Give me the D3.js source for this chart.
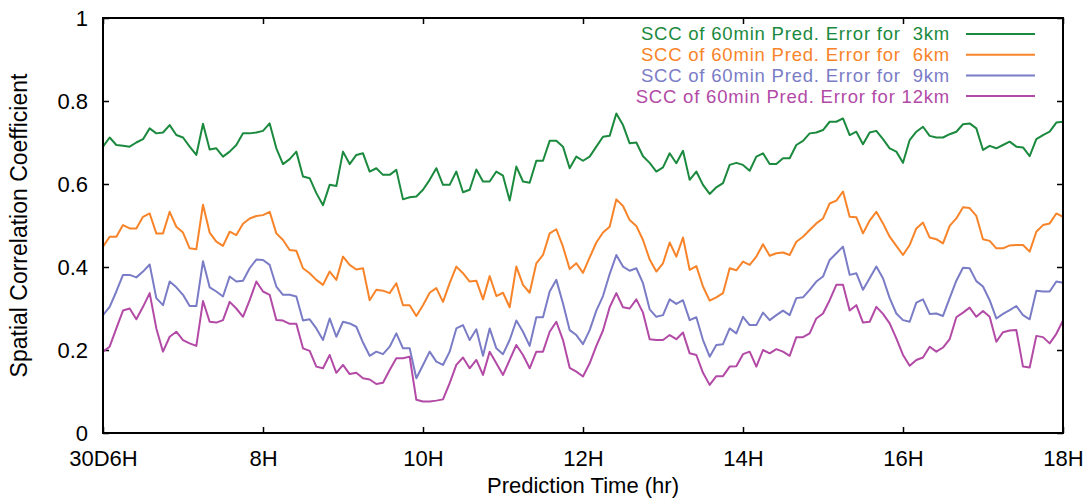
<!DOCTYPE html>
<html>
<head>
<meta charset="utf-8">
<script src="https://cdn.jsdelivr.net/npm/d3@7"></script>
<style>
  body { margin: 0; background: #fff; }
  svg { display: block; font-family: "Liberation Sans", Arial, sans-serif; }
</style>
</head>
<body>
<div id="chart"></div>
<script>
// tick labels
const xTickValues = [6, 8, 10, 12, 14, 16, 18];
const xTickLabels = ["30D6H", "8H", "10H", "12H", "14H", "16H", "18H"];
const yTickValues = [0, 0.2, 0.4, 0.6, 0.8, 1];
const yTickLabels = ["0", "0.2", "0.4", "0.6", "0.8", "1"];

// one value every 5 minutes from 6H to 18H
const startHour = 6;
const stepMinutes = 5;

const scc3km = [
  0.69, 0.712, 0.694, 0.692, 0.69, 0.70, 0.708, 0.734, 0.722, 0.724, 0.742, 0.718, 0.712, 0.69, 0.67, 0.745, 0.683, 0.686, 0.666, 0.678, 0.694,
  0.722, 0.722, 0.724, 0.728, 0.746, 0.686, 0.648, 0.66, 0.678, 0.618, 0.614, 0.578, 0.549, 0.598, 0.595, 0.678, 0.648, 0.67, 0.674, 0.63, 0.638, 0.622, 0.622, 0.634,
  0.563, 0.568, 0.57, 0.586, 0.61, 0.638, 0.598, 0.598, 0.63, 0.58, 0.586, 0.635, 0.606, 0.606, 0.63, 0.62, 0.56, 0.642, 0.606, 0.603, 0.656, 0.656, 0.704, 0.704, 0.69, 0.638,
  0.666, 0.656, 0.666, 0.69, 0.714, 0.716, 0.77, 0.742, 0.698, 0.70, 0.667, 0.651, 0.63, 0.64, 0.674, 0.65, 0.68, 0.61, 0.63, 0.598, 0.576, 0.592, 0.602, 0.646, 0.651,
  0.646, 0.632, 0.666, 0.674, 0.648, 0.648, 0.662, 0.662, 0.694, 0.704, 0.722, 0.724, 0.73, 0.75, 0.75, 0.758, 0.718, 0.726, 0.696, 0.724, 0.728, 0.708, 0.686, 0.678, 0.651, 0.706,
  0.726, 0.738, 0.716, 0.712, 0.712, 0.72, 0.726, 0.744, 0.746, 0.734, 0.682, 0.692, 0.686, 0.694, 0.702, 0.69, 0.688, 0.667, 0.708, 0.718, 0.726, 0.748, 0.75
];

const scc6km = [
  0.449, 0.473, 0.473, 0.501, 0.493, 0.493, 0.521, 0.529, 0.481, 0.481, 0.533, 0.497, 0.483, 0.445, 0.443, 0.55, 0.483, 0.461, 0.451, 0.485, 0.477,
  0.504, 0.517, 0.523, 0.525, 0.533, 0.481, 0.465, 0.441, 0.439, 0.397, 0.385, 0.369, 0.357, 0.389, 0.369, 0.425, 0.405, 0.394, 0.397, 0.32, 0.345, 0.343, 0.337, 0.361,
  0.308, 0.308, 0.282, 0.308, 0.338, 0.349, 0.316, 0.361, 0.401, 0.385, 0.365, 0.367, 0.322, 0.378, 0.33, 0.338, 0.303, 0.401, 0.357, 0.338, 0.409, 0.429, 0.481, 0.491, 0.449, 0.395,
  0.409, 0.386, 0.423, 0.459, 0.483, 0.497, 0.563, 0.547, 0.513, 0.499, 0.465, 0.418, 0.389, 0.409, 0.459, 0.425, 0.471, 0.393, 0.402, 0.353, 0.319, 0.327, 0.337, 0.397, 0.392,
  0.413, 0.405, 0.425, 0.455, 0.427, 0.433, 0.435, 0.429, 0.461, 0.473, 0.489, 0.505, 0.517, 0.553, 0.56, 0.582, 0.521, 0.52, 0.481, 0.512, 0.533, 0.505, 0.473, 0.451, 0.429, 0.453,
  0.493, 0.507, 0.471, 0.467, 0.457, 0.499, 0.517, 0.544, 0.542, 0.523, 0.467, 0.463, 0.445, 0.445, 0.452, 0.453, 0.453, 0.437, 0.485, 0.501, 0.505, 0.529, 0.521
];

const scc9km = [
  0.284, 0.304, 0.341, 0.381, 0.381, 0.375, 0.389, 0.406, 0.325, 0.308, 0.365, 0.351, 0.333, 0.306, 0.306, 0.414, 0.351, 0.341, 0.329, 0.377, 0.365,
  0.367, 0.397, 0.418, 0.417, 0.405, 0.353, 0.333, 0.333, 0.329, 0.271, 0.274, 0.252, 0.224, 0.276, 0.232, 0.268, 0.264, 0.256, 0.218, 0.186, 0.196, 0.19, 0.208, 0.24,
  0.204, 0.204, 0.132, 0.164, 0.196, 0.172, 0.164, 0.196, 0.252, 0.26, 0.224, 0.25, 0.186, 0.252, 0.204, 0.19, 0.224, 0.271, 0.244, 0.21, 0.279, 0.279, 0.341, 0.369, 0.312, 0.248,
  0.236, 0.214, 0.248, 0.295, 0.33, 0.383, 0.429, 0.401, 0.391, 0.397, 0.361, 0.298, 0.28, 0.284, 0.322, 0.311, 0.32, 0.272, 0.279, 0.224, 0.184, 0.212, 0.214, 0.252, 0.24,
  0.28, 0.26, 0.26, 0.29, 0.272, 0.284, 0.295, 0.284, 0.325, 0.327, 0.345, 0.365, 0.377, 0.417, 0.433, 0.449, 0.381, 0.385, 0.345, 0.373, 0.401, 0.373, 0.325, 0.288, 0.272, 0.268,
  0.314, 0.322, 0.287, 0.288, 0.282, 0.325, 0.367, 0.398, 0.397, 0.366, 0.353, 0.32, 0.276, 0.287, 0.296, 0.306, 0.284, 0.274, 0.343, 0.341, 0.341, 0.365, 0.362
];

const scc12km = [
  0.196, 0.208, 0.252, 0.295, 0.30, 0.274, 0.304, 0.337, 0.252, 0.196, 0.232, 0.244, 0.224, 0.216, 0.21, 0.318, 0.268, 0.266, 0.272, 0.316, 0.30,
  0.28, 0.32, 0.365, 0.341, 0.333, 0.272, 0.271, 0.263, 0.263, 0.204, 0.198, 0.16, 0.156, 0.188, 0.145, 0.164, 0.142, 0.145, 0.132, 0.129, 0.118, 0.121, 0.152, 0.18,
  0.18, 0.184, 0.08, 0.076, 0.076, 0.078, 0.081, 0.12, 0.164, 0.182, 0.156, 0.176, 0.14, 0.196, 0.168, 0.14, 0.176, 0.212, 0.188, 0.156, 0.196, 0.196, 0.244, 0.268, 0.224, 0.157,
  0.148, 0.136, 0.168, 0.21, 0.247, 0.303, 0.337, 0.303, 0.30, 0.322, 0.29, 0.226, 0.224, 0.224, 0.236, 0.226, 0.242, 0.192, 0.188, 0.145, 0.116, 0.137, 0.137, 0.16, 0.161,
  0.19, 0.196, 0.16, 0.2, 0.192, 0.202, 0.196, 0.186, 0.231, 0.231, 0.24, 0.276, 0.288, 0.32, 0.357, 0.357, 0.295, 0.308, 0.266, 0.268, 0.304, 0.287, 0.264, 0.228, 0.188, 0.162,
  0.176, 0.182, 0.208, 0.196, 0.206, 0.226, 0.279, 0.29, 0.302, 0.28, 0.294, 0.28, 0.22, 0.243, 0.247, 0.248, 0.16, 0.158, 0.234, 0.231, 0.216, 0.239, 0.271
];

const seriesLabels = [
  "SCC of 60min Pred. Error for  3km",
  "SCC of 60min Pred. Error for  6km",
  "SCC of 60min Pred. Error for  9km",
  "SCC of 60min Pred. Error for 12km",
];
const seriesColors = ["#1b8a3e", "#f8842a", "#7a7cc6", "#b24aa6"];
const xTitle = "Prediction Time (hr)";
const yTitle = "Spatial Correlation Coefficient";

const series = [scc3km, scc6km, scc9km, scc12km].map((values, i) => ({
  id: i,
  label: seriesLabels[i],
  color: seriesColors[i],
  values,
}));
const times = scc3km.map((d, i) => startHour + (i * stepMinutes) / 60);

class SccChart {
  constructor(el) {
    this.el = el;
    this.width = 1091;
    this.height = 498;
    this.margin = { top: 18, right: 28, bottom: 65, left: 103 };
    this.tickLength = 6;
    this.fontSize = 22;
    this.legendFontSize = 18.5;
    this.init();
  }

  init() {
    this.x = d3
      .scaleLinear()
      .domain([startHour, 18])
      .range([this.margin.left, this.width - this.margin.right]);
    this.y = d3
      .scaleLinear()
      .domain([0, 1])
      .range([this.height - this.margin.bottom, this.margin.top]);

    this.line = d3
      .line()
      .x((d, i) => this.x(times[i]))
      .y((d) => this.y(d));

    this.svg = d3
      .select(this.el)
      .append("svg")
      .attr("width", this.width)
      .attr("height", this.height)
      .attr("viewBox", [0, 0, this.width, this.height])
      .style("font-size", `${this.fontSize}px`);

    this.render();
  }

  render() {
    this.renderAxes();
    this.renderLines();
    this.renderFrame();
    this.renderLegend();
  }

  renderAxes() {
    const [x0, x1] = this.x.range();
    const [y0, y1] = this.y.range();
    // d3 axes put font attrs on the group; drop them so the svg font applies
    const style = (g) =>
      g.attr("font-size", null)
        .attr("font-family", null)
        .call((g) => g.select(".domain").remove())
        .call((g) => g.selectAll("line").attr("stroke", "#000").attr("stroke-width", 1.5))
        .call((g) => g.selectAll("text").attr("fill", "#000"));

    this.svg
      .append("g")
      .attr("transform", `translate(0,${y0})`)
      .call(
        d3.axisBottom(this.x)
          .tickValues(xTickValues)
          .tickSize(-this.tickLength)
          .tickPadding(17)
          .tickFormat((d, i) => xTickLabels[i])
      )
      .call(style);

    this.svg
      .append("g")
      .attr("transform", `translate(0,${y1})`)
      .call(d3.axisTop(this.x).tickValues(xTickValues).tickSize(-this.tickLength).tickFormat(""))
      .call(style);

    this.svg
      .append("g")
      .attr("transform", `translate(${x0},0)`)
      .call(
        d3.axisLeft(this.y)
          .tickValues(yTickValues)
          .tickSize(-this.tickLength)
          .tickPadding(15)
          .tickFormat((d, i) => yTickLabels[i])
      )
      .call(style);

    this.svg
      .append("g")
      .attr("transform", `translate(${x1},0)`)
      .call(d3.axisRight(this.y).tickValues(yTickValues).tickSize(-this.tickLength).tickFormat(""))
      .call(style);

    this.svg
      .append("text")
      .attr("x", (x0 + x1) / 2)
      .attr("y", 493)
      .attr("text-anchor", "middle")
      .text(xTitle);

    this.svg
      .append("text")
      .attr("transform", `translate(27,${(y0 + y1) / 2}) rotate(-90)`)
      .attr("text-anchor", "middle")
      .style("font-size", "23px")
      .text(yTitle);
  }

  renderLines() {
    this.svg
      .append("g")
      .attr("class", "lines-g")
      .selectAll("path")
      .data(series, (d) => d.id)
      .join("path")
      .attr("fill", "none")
      .attr("stroke", (d) => d.color)
      .attr("stroke-width", 2)
      .attr("stroke-linejoin", "round")
      .attr("d", (d) => this.line(d.values));
  }

  renderFrame() {
    const [x0, x1] = this.x.range();
    const [y0, y1] = this.y.range();
    this.svg
      .append("rect")
      .attr("x", x0)
      .attr("y", y1)
      .attr("width", x1 - x0)
      .attr("height", y0 - y1)
      .attr("fill", "none")
      .attr("stroke", "#000")
      .attr("stroke-width", 2);
  }

  renderLegend() {
    const textRight = 950;
    const lineX = [966, 1035];
    const rowY = (i) => 34 + i * 20.7;
    const rows = this.svg
      .append("g")
      .attr("class", "legend")
      .style("font-size", `${this.legendFontSize}px`)
      .style("letter-spacing", "0.8px")
      .selectAll("g")
      .data(series, (d) => d.id)
      .join("g")
      .attr("transform", (d, i) => `translate(0,${rowY(i)})`);

    rows
      .append("text")
      .attr("x", textRight)
      .attr("dy", "0.35em")
      .attr("text-anchor", "end")
      .attr("fill", (d) => d.color)
      .style("white-space", "pre")
      .text((d) => d.label);

    rows
      .append("line")
      .attr("x1", lineX[0])
      .attr("x2", lineX[1])
      .attr("stroke", (d) => d.color)
      .attr("stroke-width", 2);
  }
}

new SccChart(document.getElementById("chart"));
</script>
</body>
</html>
